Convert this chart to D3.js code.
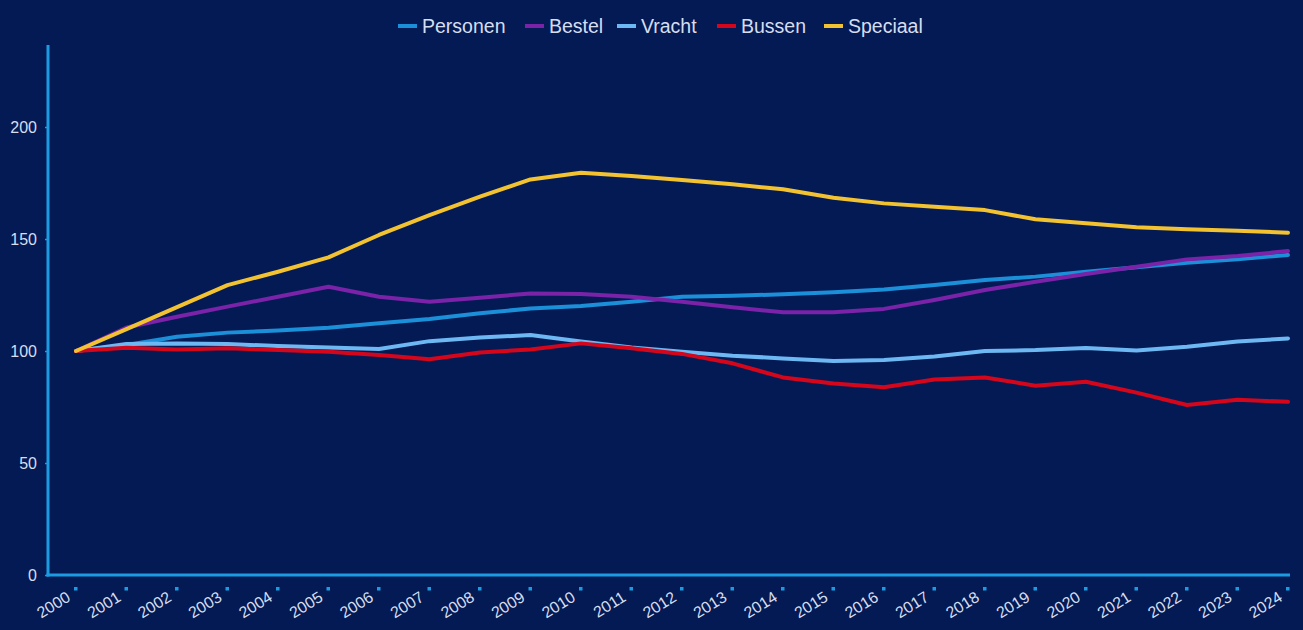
<!DOCTYPE html>
<html>
<head>
<meta charset="utf-8">
<script src="https://cdn.jsdelivr.net/npm/d3@7"></script>
<style>
  html, body { margin: 0; padding: 0; background: #041a55; }
  svg { display: block; }
  text { font-family: "Liberation Sans", Arial, sans-serif; }
</style>
</head>
<body>
<svg id="chart" width="1303" height="630"></svg>
<script>
// Index of vehicle fleet per category (2000 = 100)
const years = ["2000","2001","2002","2003","2004","2005","2006","2007","2008","2009","2010","2011","2012",
               "2013","2014","2015","2016","2017","2018","2019","2020","2021","2022","2023","2024"];
const seriesNames = ["Personen", "Bestel", "Vracht", "Bussen", "Speciaal"];
const seriesColors = ["#1b8fd8", "#7a22a8", "#6db8f2", "#d3061c", "#f2c230"];

const personen = [100, 102.7, 106.4, 108.2, 109.1, 110.4, 112.4, 114.3, 116.8, 119.0, 120.1, 122.0, 124.2,
                  124.7, 125.3, 126.2, 127.5, 129.5, 131.7, 133.2, 135.4, 137.4, 139.4, 140.9, 142.9];
const bestel   = [100, 110.5, 115.3, 119.8, 124.2, 128.7, 124.2, 122.0, 123.8, 125.7, 125.4, 124.2, 122.0,
                  119.5, 117.3, 117.3, 118.8, 122.8, 127.2, 130.9, 134.4, 137.6, 140.9, 142.4, 144.6];
const vracht   = [100, 103.1, 103.4, 103.1, 102.2, 101.6, 100.9, 104.4, 106.0, 107.1, 104.2, 101.6, 99.7,
                  97.9, 96.7, 95.5, 96.0, 97.5, 100.0, 100.4, 101.3, 100.2, 101.9, 104.2, 105.6];
const bussen   = [100, 101.5, 100.7, 101.2, 100.4, 99.7, 98.2, 96.3, 99.3, 100.7, 103.4, 101.2, 98.7,
                  94.5, 88.2, 85.5, 83.8, 87.3, 88.2, 84.5, 86.3, 81.4, 75.9, 78.2, 77.3];
const speciaal = [100, 109.8, 119.6, 129.4, 135.4, 141.8, 151.8, 160.7, 168.9, 176.6, 179.6, 178.1, 176.3,
                  174.4, 172.2, 168.4, 165.9, 164.4, 162.9, 158.8, 157.0, 155.2, 154.3, 153.7, 152.8];
const yTicks = [0, 50, 100, 150, 200];

const allSeries = [personen, bestel, vracht, bussen, speciaal];

const svg = d3.select("#chart");
const W = 1303, H = 630;
const axisColor = "#1b9be2";
const textColor = "#d6deee";

svg.append("rect").attr("width", W).attr("height", H).attr("fill", "#041a55");

const x = d3.scalePoint().domain(years).range([76, 1288]);
const y = d3.scaleLinear().domain([0, 236.6]).range([575, 45]);

// y axis
const yAxis = svg.append("g").attr("transform", "translate(48,0)")
  .call(d3.axisLeft(y).tickValues(yTicks).tickSize(3).tickPadding(8));
yAxis.select(".domain").remove();
yAxis.selectAll(".tick line").attr("stroke", axisColor).attr("stroke-width", 1.5);
yAxis.selectAll(".tick text").attr("fill", textColor).attr("font-size", 16)
  .attr("font-family", "Liberation Sans, Arial, sans-serif");
svg.append("line").attr("x1", 48).attr("x2", 48).attr("y1", y.range()[1]).attr("y2", y(0) + 1.5)
  .attr("stroke", axisColor).attr("stroke-width", 3);

// x axis
const xAxis = svg.append("g").attr("transform", `translate(0,${y(0)})`)
  .call(d3.axisBottom(x).tickSize(0).tickPadding(0));
xAxis.select(".domain").remove();
xAxis.selectAll(".tick").append("rect")
  .attr("x", -2.5).attr("y", 12).attr("width", 3.5).attr("height", 3.5).attr("fill", axisColor);
xAxis.selectAll(".tick text")
  .attr("fill", textColor).attr("font-size", 16)
  .attr("font-family", "Liberation Sans, Arial, sans-serif")
  .attr("text-anchor", "end")
  .attr("dy", null)
  .attr("y", null)
  .attr("transform", "translate(-5,25) rotate(-32)");
svg.append("line").attr("x1", 46.5).attr("x2", 1290).attr("y1", y(0)).attr("y2", y(0))
  .attr("stroke", axisColor).attr("stroke-width", 3);

// series lines
const line = d3.line().x((d, i) => x(years[i])).y(d => y(d));
svg.append("g").selectAll("path").data(allSeries).join("path")
  .attr("d", line)
  .attr("fill", "none")
  .attr("stroke", (d, i) => seriesColors[i])
  .attr("stroke-width", 4)
  .attr("stroke-linejoin", "round")
  .attr("stroke-linecap", "round");

// legend
const legendX = [398, 525, 617, 717, 824];
const legend = svg.append("g").selectAll("g").data(seriesNames).join("g")
  .attr("transform", (d, i) => `translate(${legendX[i]},26)`);
legend.append("line").attr("x1", 0).attr("x2", 19).attr("y1", 0).attr("y2", 0)
  .attr("stroke", (d, i) => seriesColors[i]).attr("stroke-width", 4);
legend.append("text").attr("x", 24).attr("y", 7).attr("fill", textColor)
  .attr("font-size", 19.5).text(d => d);
</script>
</body>
</html>
